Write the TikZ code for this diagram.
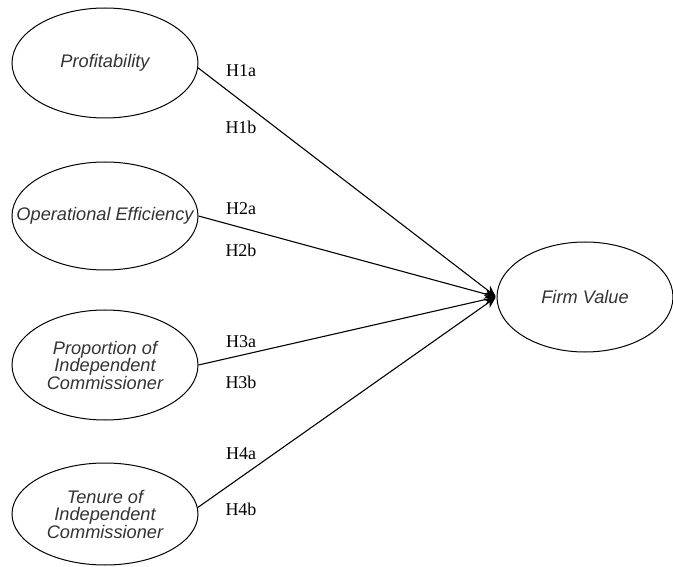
\documentclass[tikz,border=0pt]{standalone}
\usepackage{fontspec}
\setmainfont{Liberation Serif}
\setsansfont{Liberation Sans}
\usetikzlibrary{shapes.geometric,arrows.meta}
\tikzset{
  construct/.style={ellipse, draw=black, line width=1pt, inner sep=0pt,
    minimum width=186pt, minimum height=110pt, align=center,
    font=\sffamily\itshape\fontsize{18.2}{17.5}\selectfont, text=black!80},
  hyp/.style={font=\fontsize{18}{18}\selectfont, text=black, inner sep=0pt},
  path/.style={draw=black, line width=1.1pt, -{Stealth[length=11pt,width=10pt]}, shorten >=1pt}
}
\begin{document}
\begin{tikzpicture}[x=1pt,y=-1pt]
\useasboundingbox (0,0) rectangle (673,567);
\node[construct] (p1) at (105,63) {Profitability};
\node[construct, minimum height=108pt] (p2) at (105,216) {\makebox[0pt][c]{Operational Efficiency}};
\node[construct] (p3) at (105,365) {Proportion of\\Independent\\Commissioner};
\node[construct, minimum height=102pt] (p4) at (105,514) {Tenure of\\Independent\\Commissioner};
\node[construct, minimum width=176pt] (fv) at (585,297) {Firm Value};
\draw[path] (p1.-3) -- (fv.west);
\draw[path] (p2.east) -- (fv.west);
\draw[path] (p3.east) -- (fv.west);
\draw[path] (p4.4) -- (fv.west);
\node[hyp] (h1a) at (241,71) {H1a};
\node[hyp] (h1b) at (241,127) {H1b};
\node[hyp] (h2a) at (241,209) {H2a};
\node[hyp] (h2b) at (241,250) {H2b};
\node[hyp] (h3a) at (241,342) {H3a};
\node[hyp] (h3b) at (241,382) {H3b};
\node[hyp] (h4a) at (241,454) {H4a};
\node[hyp] (h4b) at (241,509) {H4b};
\end{tikzpicture}
\end{document}
